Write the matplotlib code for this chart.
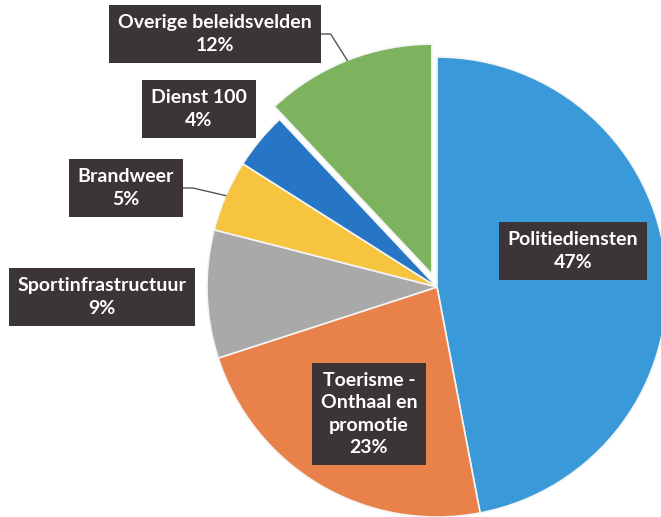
import numpy as np
import matplotlib
matplotlib.use("Agg")
import matplotlib.pyplot as plt

labels = ["Politiediensten", "Toerisme -\nOnthaal en\npromotie", "Sportinfrastructuur",
          "Brandweer", "Dienst 100", "Overige beleidsvelden"]
values = [47, 23, 9, 5, 4, 12]
colors = ["#3a9ad9", "#e9824a", "#a9a9a9", "#f7c440", "#2776c6", "#7db35e"]
explode = [0, 0, 0, 0, 0, 0.06]

# label box centres (pixel coords, y from top) and whether a leader line is drawn
label_pos = [(573, 251), (369, 414), (102, 297), (126, 188), (199, 109), (215, 34)]
leader = [False, False, False, True, False, True]

W, H = 661, 517
fig = plt.figure(figsize=(W / 100, H / 100), dpi=100)
ax = fig.add_axes([0, 0, 1, 1])

cx, cy, r = 437, H - 287, 230
wedges, _ = ax.pie(values, colors=colors, explode=[e * r for e in explode],
                   startangle=90, counterclock=False, center=(cx, cy), radius=r,
                   wedgeprops=dict(edgecolor="#f4f4f4", linewidth=1.2),
                   frame=True)
ax.set_xlim(0, W)
ax.set_ylim(0, H)
ax.set_aspect("equal")
ax.axis("off")

total = sum(values)
texts = []
for lab, v, (px, py) in zip(labels, values, label_pos):
    t = ax.text(px, H - py, f"{lab}\n{round(100 * v / total)}%", ha="center",
                va="center", color="white", fontsize=14, fontweight="bold",
                family="Lato", linespacing=1.4, zorder=5,
                bbox=dict(boxstyle="square,pad=0.45", facecolor="#3c3535",
                          edgecolor="none"))
    texts.append(t)

fig.canvas.draw()
inv = ax.transData.inverted()
for w, t, ld in zip(wedges, texts, leader):
    if not ld:
        continue
    bb = t.get_bbox_patch().get_window_extent()
    x0, _ = inv.transform((bb.x1, bb.y0))
    ty = t.get_position()[1]
    mid = np.deg2rad((w.theta1 + w.theta2) / 2)
    wx, wy = w.center
    ex, ey = wx + w.r * np.cos(mid), wy + w.r * np.sin(mid)
    ax.plot([x0, x0 + 10, ex], [ty, ty, ey], color="#555555", lw=1, zorder=4)

fig.savefig("out.png", dpi=100, facecolor="white")
